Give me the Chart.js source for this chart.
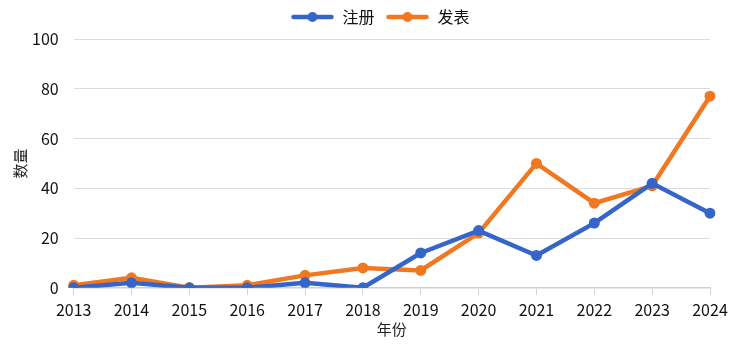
<!DOCTYPE html>
<html>
<head>
<meta charset="utf-8">
<script src="https://cdn.jsdelivr.net/npm/chart.js@4/dist/chart.umd.min.js"></script>
<style>
  html, body { margin: 0; padding: 0; background: #fff; }
  #wrap { width: 742px; height: 344px; }
</style>
</head>
<body>
<div id="wrap"><canvas id="c"></canvas></div>
<script>
const years = ['2013','2014','2015','2016','2017','2018','2019','2020','2021','2022','2023','2024'];
const registered = [0, 2, 0, 0, 2, 0, 14, 23, 13, 26, 42, 30];
const published  = [1, 4, 0, 1, 5, 8, 7, 22, 50, 34, 41, 77];
const yTicks = [0, 20, 40, 60, 80, 100];

const BLUE = '#3565c9';
const ORANGE = '#ef7820';
const FONT = "'Noto Sans CJK SC', 'Noto Sans', sans-serif";

// Legend marker: a short thick line with a dot in the middle
function lineMarker(color) {
  const c = document.createElement('canvas');
  c.width = 44; c.height = 12;
  const g = c.getContext('2d');
  g.strokeStyle = color; g.lineWidth = 4.5; g.lineCap = 'round';
  g.beginPath(); g.moveTo(3, 6); g.lineTo(41, 6); g.stroke();
  g.fillStyle = color;
  g.beginPath(); g.arc(22, 6, 5, 0, Math.PI * 2); g.fill();
  return c;
}
const markers = [lineMarker(BLUE), lineMarker(ORANGE)];

// Leave a little extra room between the legend and the plot
const legendGap = {
  id: 'legendGap',
  afterInit(chart) {
    const lg = chart.legend;
    if (!lg) return;
    const fit = lg.fit;
    lg.fit = function () { fit.call(this); this.height += 4; };
  }
};

new Chart(document.getElementById('c'), {
  type: 'line',
  data: {
    labels: years,
    datasets: [
      { label: '注册', data: registered, borderColor: BLUE, backgroundColor: BLUE,
        borderWidth: 4.5, pointRadius: 5.5, pointHoverRadius: 5.5, pointBorderWidth: 0, tension: 0 },
      { label: '发表', data: published, borderColor: ORANGE, backgroundColor: ORANGE,
        borderWidth: 4.5, pointRadius: 5.5, pointHoverRadius: 5.5, pointBorderWidth: 0, tension: 0 }
    ]
  },
  plugins: [legendGap],
  options: {
    responsive: true,
    maintainAspectRatio: false,
    animation: false,
    layout: { padding: { left: 18, right: 0, top: -2, bottom: 6 } },
    plugins: {
      tooltip: { enabled: false },
      legend: {
        position: 'top',
        labels: {
          font: { family: FONT, size: 16 },
          color: '#111',
          usePointStyle: true,
          pointStyleWidth: 44,
          boxHeight: 12,
          padding: 11,
          generateLabels(chart) {
            const items = Chart.defaults.plugins.legend.labels.generateLabels(chart);
            items.forEach((it, i) => { it.pointStyle = markers[i]; });
            return items;
          }
        }
      }
    },
    scales: {
      x: {
        offset: false,
        afterFit(scale) { scale.paddingRight = 32; },
        grid: { display: true, drawOnChartArea: false, drawTicks: true, tickLength: 7, color: '#d0d0d0' },
        border: { display: true, color: '#d0d0d0', width: 1.5 },
        ticks: { font: { family: FONT, size: 16 }, color: '#111', padding: 6, maxRotation: 0, autoSkip: false },
        title: { display: true, text: '年份', font: { family: FONT, size: 15 }, color: '#222', padding: { top: -6, bottom: 0 } }
      },
      y: {
        min: 0, max: 100,
        afterBuildTicks(scale) { scale.ticks = yTicks.map(v => ({ value: v })); },
        grid: { color: '#dcdcdc', drawTicks: false },
        border: { display: false },
        ticks: { font: { family: FONT, size: 16 }, color: '#111', padding: 15 },
        title: { display: true, text: '数量', font: { family: FONT, size: 15 }, color: '#222', padding: { top: -7, bottom: -12 } }
      }
    }
  }
});
</script>
</body>
</html>
